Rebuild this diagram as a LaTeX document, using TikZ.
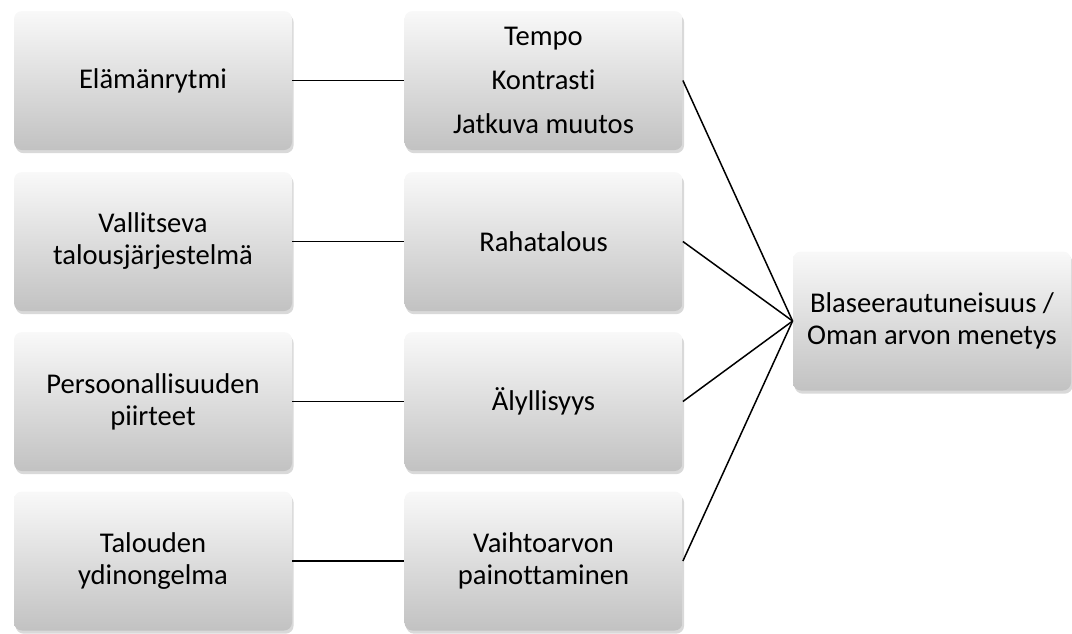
\documentclass[tikz,border=0pt]{standalone}
\usepackage{fontspec}
\setmainfont{Carlito}[Ligatures={NoCommon}]
\usetikzlibrary{shadows}

\tikzset{
  factor/.style={rectangle, rounded corners=4pt, minimum width=139pt, minimum height=69.5pt,
    inner sep=2pt, align=center, top color=gray!5, bottom color=gray!48,
    drop shadow={opacity=0.3, shadow xshift=0.8pt, shadow yshift=-1.6pt},
    font=\fontsize{14.3}{16}\selectfont},
  link/.style={black, line width=0.75pt}
}

\begin{document}
\begin{tikzpicture}[x=0.5pt, y=0.5pt]
      \useasboundingbox (0,0) rectangle (1072,-633);
      % vasen sarake
      \node [factor] (rytmi) at (153,-80.5) {Elämänrytmi};
      \node [factor] (talous) at (153,-241.5) {Vallitseva\\talousjärjestelmä};
      \node [factor] (persoona) at (153,-401.5) {Persoonallisuuden\\piirteet};
      \node [factor] (ydin) at (153,-561) {Talouden\\ydinongelma};
      % keskimmainen sarake
      \node [factor] (tempo) at (543.5,-80.5) {Tempo\\[6pt]Kontrasti\\[6pt]Jatkuva muutos};
      \node [factor] (raha) at (543.5,-241.5) {Rahatalous};
      \node [factor] (aly) at (543.5,-401.5) {Älyllisyys};
      \node [factor] (vaihto) at (543.5,-561) {Vaihtoarvon\\painottaminen};
      % tulos
      \node [factor] (blase) at (932,-321) {Blaseerautuneisuus /\\Oman arvon menetys};
      \draw [link] (rytmi.east) -- (tempo.west);
      \draw [link] (talous.east) -- (raha.west);
      \draw [link] (persoona.east) -- (aly.west);
      \draw [link] (ydin.east) -- (vaihto.west);
      \draw [link] (tempo.east) -- (blase.west);
      \draw [link] (raha.east) -- (blase.west);
      \draw [link] (aly.east) -- (blase.west);
      \draw [link] (vaihto.east) -- (blase.west);
\end{tikzpicture}
\end{document}
